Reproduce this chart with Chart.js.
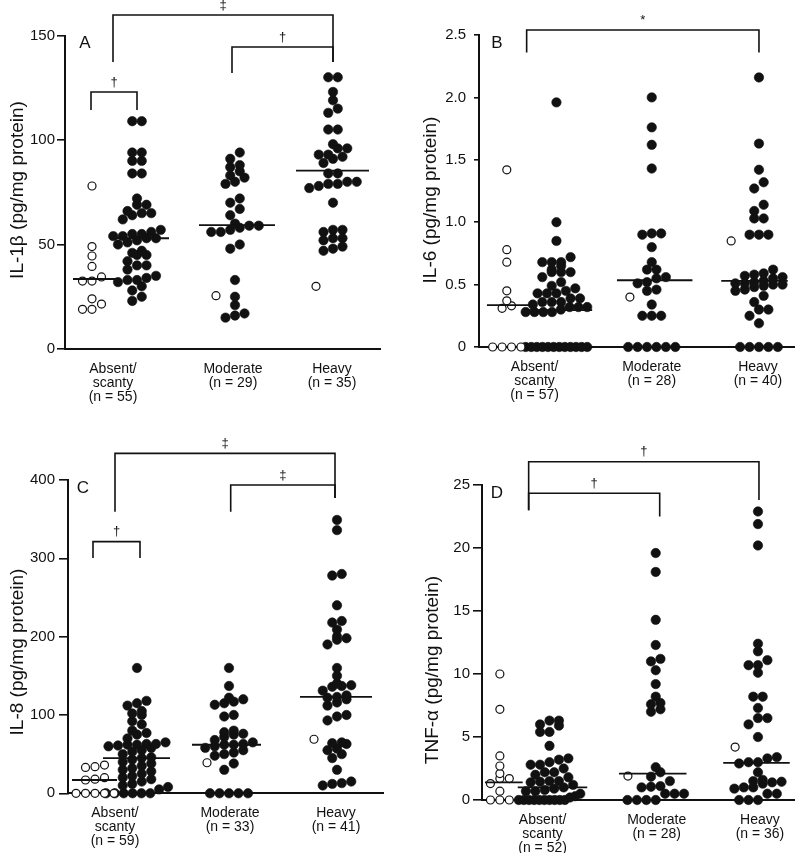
<!DOCTYPE html>
<html><head><meta charset="utf-8">
<script src="https://cdn.jsdelivr.net/npm/chart.js@4.4.1/dist/chart.umd.min.js"></script>
<style>
html,body{margin:0;padding:0;background:#fff;}
#wrap{position:relative;width:800px;height:853px;overflow:hidden;background:#fff;}
canvas{position:absolute;}
</style></head><body>
<div id="wrap">
<canvas id="cA" width="400" height="420" style="left:0;top:0"></canvas>
<canvas id="cB" width="400" height="420" style="left:400px;top:0"></canvas>
<canvas id="cC" width="400" height="438" style="left:0;top:415px"></canvas>
<canvas id="cD" width="400" height="438" style="left:400px;top:415px"></canvas>
</div>
<script>
// ---------- data ----------
const categories = ['Absent/scanty', 'Moderate', 'Heavy'];

// Panel A: IL-1β
const aN = [55, 29, 35];
const aTicks = [0, 50, 100, 150];
const aAbsentOpen = [78, 49, 44.5, 39.5, 34.5, 32.5, 32.5, 24, 21.5, 19, 19];
const aAbsentFilled = [109, 109, 94, 94, 90, 90, 84, 84, 72, 69, 69, 66, 65, 65, 64, 62, 57, 56, 55, 55, 54, 54, 53, 53, 52, 51, 50, 47, 46, 45, 45, 42, 40, 40, 38, 35, 34, 33, 33, 32, 30, 28, 25, 23];
const aModerateOpen = [25.5];
const aModerateFilled = [94, 91, 88, 87, 85, 83, 82, 80, 79, 72, 70, 67, 64, 60, 59, 59, 58, 57, 56, 56, 50, 48, 33, 25, 21, 17, 16, 15];
const aHeavyOpen = [30];
const aHeavyFilled = [130, 130, 123, 119, 115, 113, 105, 105, 98, 96, 96, 93, 93, 92, 91, 89, 84, 84, 80, 80, 79, 79, 78, 77, 70, 57, 57, 56, 53, 53, 52, 49, 48, 47];
const aMedians = [33.5, 53, 59.3, 85.3];

// Panel B: IL-6
const bN = [57, 28, 40];
const bTicks = [0, 0.5, 1.0, 1.5, 2.0, 2.5];
const bAbsentOpen = [1.42, 0.78, 0.68, 0.45, 0.37, 0.33, 0.31, 0, 0, 0, 0];
const bAbsentFilled = [1.96, 1.0, 0.85, 0.72, 0.68, 0.68, 0.68, 0.65, 0.62, 0.6, 0.6, 0.6, 0.56, 0.52, 0.49, 0.47, 0.45, 0.43, 0.43, 0.43, 0.39, 0.39, 0.36, 0.36, 0.36, 0.34, 0.32, 0.32, 0.32, 0.3, 0.28, 0.28, 0.28, 0.28, 0, 0, 0, 0, 0, 0, 0, 0, 0, 0, 0, 0];
const bModerateOpen = [0.4];
const bModerateFilled = [2.0, 1.76, 1.62, 1.43, 0.91, 0.91, 0.9, 0.8, 0.68, 0.62, 0.62, 0.56, 0.55, 0.52, 0.51, 0.46, 0.45, 0.34, 0.25, 0.25, 0.25, 0, 0, 0, 0, 0, 0];
const bHeavyOpen = [0.85];
const bHeavyFilled = [2.16, 1.63, 1.42, 1.32, 1.27, 1.14, 1.09, 1.03, 1.03, 0.9, 0.9, 0.9, 0.62, 0.59, 0.58, 0.57, 0.56, 0.55, 0.53, 0.52, 0.51, 0.51, 0.5, 0.5, 0.49, 0.48, 0.46, 0.45, 0.41, 0.36, 0.3, 0.3, 0.25, 0.19, 0, 0, 0, 0, 0];
const bMedians = [0.335, 0.295, 0.535, 0.53];

// Panel C: IL-8
const cN = [59, 33, 41];
const cTicks = [0, 100, 200, 300, 400];
const cAbsentOpen = [36, 34, 33, 20, 18, 17, 0, 0, 0, 0, 0];
const cAbsentFilled = [160, 118, 115, 112, 105, 102, 100, 92, 88, 80, 77, 75, 70, 65, 63, 63, 62, 62, 61, 60, 58, 55, 53, 50, 46, 45, 43, 40, 38, 35, 32, 30, 28, 25, 22, 20, 18, 15, 12, 10, 8, 5, 0, 0, 0, 0, 0, 0];
const cModerateOpen = [39];
const cModerateFilled = [160, 137, 122, 120, 117, 115, 113, 100, 98, 80, 78, 76, 75, 72, 68, 65, 63, 62, 62, 60, 58, 55, 52, 50, 48, 38, 30, 0, 0, 0, 0, 0];
const cHeavyOpen = [69];
const cHeavyFilled = [349, 336, 280, 278, 240, 220, 218, 209, 200, 198, 196, 190, 160, 150, 140, 138, 137, 136, 131, 125, 123, 122, 120, 116, 112, 100, 98, 93, 65, 64, 63, 57, 55, 50, 45, 30, 15, 13, 12, 10];
const cMedians = [17, 45, 62, 123];

// Panel D: TNF-α
const dN = [52, 28, 36];
const dTicks = [0, 5, 10, 15, 20, 25];
const dAbsentOpen = [10.0, 7.2, 3.5, 2.7, 2.1, 1.7, 1.7, 1.3, 0.7, 0, 0, 0];
const dAbsentFilled = [6.3, 6.3, 6.0, 5.9, 5.4, 5.4, 4.3, 3.3, 3.2, 3.0, 2.8, 2.8, 2.5, 2.2, 2.2, 2.0, 1.8, 1.5, 1.5, 1.45, 1.4, 1.2, 1.0, 0.9, 0.8, 0.7, 0.7, 0.5, 0.3, 0.2, 0, 0, 0, 0, 0, 0, 0, 0, 0, 0];
const dModerateOpen = [1.9];
const dModerateFilled = [19.6, 18.1, 14.3, 12.3, 11.2, 11.0, 10.3, 9.2, 8.2, 7.7, 7.6, 7.2, 7.0, 2.6, 2.2, 1.85, 1.5, 1.1, 1.05, 1.0, 0.5, 0.5, 0.5, 0, 0, 0, 0];
const dHeavyOpen = [4.2];
const dHeavyFilled = [22.9, 21.9, 20.2, 12.4, 11.8, 11.1, 10.7, 10.7, 10.1, 8.2, 8.2, 7.3, 6.5, 6.5, 6.0, 5.0, 3.4, 3.3, 3.0, 3.0, 2.9, 2.2, 1.6, 1.5, 1.45, 1.4, 1.3, 1.0, 1.0, 0.9, 0.5, 0.5, 0, 0, 0];
const dMedians = [1.4, 1.0, 2.1, 2.95];

// ---------- layout ----------
const FONT = "'Liberation Sans', Arial, Helvetica, sans-serif";
const INK = '#111';

function catLabels(n) {
  return [['Absent/', 'scanty', '(n = ' + n[0] + ')'], ['Moderate', '(n = ' + n[1] + ')'], ['Heavy', '(n = ' + n[2] + ')']];
}

const panels = [
  {
    canvas: 'cA', w: 400, h: 420, area: {left: 65, top: 35.5, right: 380, bottom: 349},
    yMax: 150, yTicks: aTicks, fmt: v => String(v), tickLen: 8, tickPad: 2,
    title: 'IL-1β (pg/mg protein)', titleX: 18, titleY: 190, letter: 'A', letterDx: 20,
    labelX: [48, 168, 267], labels: catLabels(aN),
    columns: [
      {vals: aAbsentOpen, x: 27, open: true}, {vals: aAbsentFilled, x: 72},
      {vals: aModerateOpen, x: 151, open: true}, {vals: aModerateFilled, x: 170},
      {vals: aHeavyOpen, x: 251, open: true}, {vals: aHeavyFilled, x: 268}
    ],
    medians: aMedians, medianX: [[8, 52], [49, 104], [134, 210], [231, 304]],
    brackets: [
      {x1: 26, x2: 72, top: 123, l: 114.4, r: 114.4, s: '†'},
      {x1: 48, x2: 268, top: 159.8, l: 137.3, r: 137.3, s: '‡'},
      {x1: 167, x2: 268, top: 144.5, l: 132, r: 137.3, s: '†'}
    ]
  },
  {
    canvas: 'cB', w: 400, h: 420, area: {left: 79, top: 35, right: 397, bottom: 347},
    yMax: 2.5, yTicks: bTicks, fmt: v => v === 0 ? '0' : v.toFixed(1), tickLen: 5, tickPad: 8,
    title: 'IL-6 (pg/mg protein)', titleX: 31, titleY: 200, letter: 'B', letterDx: 18,
    labelX: [56, 174, 281], labels: catLabels(bN),
    columns: [
      {vals: bAbsentOpen, x: 28, open: true}, {vals: bAbsentFilled, x: 78},
      {vals: bModerateOpen, x: 152, open: true}, {vals: bModerateFilled, x: 174},
      {vals: bHeavyOpen, x: 254, open: true}, {vals: bHeavyFilled, x: 282}
    ],
    medians: bMedians, medianX: [[8, 53], [48, 114], [139, 215], [244, 311]],
    brackets: [
      {x1: 48, x2: 282, top: 2.54, l: 2.36, r: 2.36, s: '*'}
    ]
  },
  {
    canvas: 'cC', w: 400, h: 438, area: {left: 68, top: 65, right: 383, bottom: 378.3},
    yMax: 400, yTicks: cTicks, fmt: v => String(v), tickLen: 9, tickPad: 4,
    title: 'IL-8 (pg/mg protein)', titleX: 18, titleY: 237, letter: 'C', letterDx: 15,
    labelX: [47, 162, 268], labels: catLabels(cN),
    columns: [
      {vals: cAbsentOpen, x: 27, open: true}, {vals: cAbsentFilled, x: 69},
      {vals: cModerateOpen, x: 139, open: true}, {vals: cModerateFilled, x: 161},
      {vals: cHeavyOpen, x: 246, open: true}, {vals: cHeavyFilled, x: 269}
    ],
    medians: cMedians, medianX: [[4, 49], [35, 102], [124, 193], [232, 304]],
    brackets: [
      {x1: 25, x2: 72, top: 321.3, l: 300.5, r: 300.5, s: '†'},
      {x1: 47, x2: 267, top: 434, l: 359.6, r: 377, s: '‡'},
      {x1: 162.7, x2: 267, top: 393.7, l: 359.6, r: 377, s: '‡'}
    ]
  },
  {
    canvas: 'cD', w: 400, h: 438, area: {left: 82, top: 70, right: 397, bottom: 385},
    yMax: 25, yTicks: dTicks, fmt: v => String(v), tickLen: 9, tickPad: 3,
    title: 'TNF-α (pg/mg protein)', titleX: 33, titleY: 255, letter: 'D', letterDx: 15,
    labelX: [61, 176, 280], labels: catLabels(dN),
    columns: [
      {vals: dAbsentOpen, x: 18, open: true}, {vals: dAbsentFilled, x: 68},
      {vals: dModerateOpen, x: 147, open: true}, {vals: dModerateFilled, x: 175},
      {vals: dHeavyOpen, x: 255, open: true}, {vals: dHeavyFilled, x: 278}
    ],
    medians: dMedians, medianX: [[3, 41], [36, 106], [138, 206], [243, 310]],
    brackets: [
      {x1: 47, x2: 279, top: 26.85, l: 23.0, r: 23.8, s: '†'},
      {x1: 47, x2: 179, top: 24.34, l: 23.0, r: 22.5, s: '†'}
    ]
  }
];

// dot-plot arrangement: values that fall within one dot height form a row, centred on the column
function swarm(values, center, pxPerUnit, spacing, maxW, rowH) {
  const sorted = values.slice().sort((a, b) => a - b);
  const rows = [];
  let cur = null;
  for (const v of sorted) {
    if (cur && (v - cur.start) * pxPerUnit <= rowH) cur.items.push(v);
    else { cur = {start: v, items: [v]}; rows.push(cur); }
  }
  const pts = [];
  rows.forEach(r => {
    const n = r.items.length;
    const sp = n > 1 ? Math.min(spacing, maxW / (n - 1)) : 0;
    r.items.forEach((v, i) => pts.push({x: center + (i - (n - 1) / 2) * sp, y: v}));
  });
  return pts;
}

function makeChart(p) {
  const A = p.area;
  const pxPerUnit = (A.bottom - A.top) / p.yMax;
  const filled = [], open = [];
  p.columns.forEach(c => {
    const pts = swarm(c.vals, c.x, pxPerUnit, 9.5, 62, 7);
    (c.open ? open : filled).push(...pts);
  });
  const datasets = [];
  p.medians.forEach((m, i) => {
    datasets.push({
      data: [{x: p.medianX[i][0], y: m}, {x: p.medianX[i][1], y: m}],
      showLine: true, borderColor: INK, borderWidth: 1.8, pointRadius: 0, order: 0, clip: false
    });
  });
  datasets.push({data: open, pointRadius: 4, pointBackgroundColor: '#fff', pointBorderColor: INK,
    pointBorderWidth: 1.2, showLine: false, order: 1, clip: false});
  datasets.push({data: filled, pointRadius: 4.7, pointBackgroundColor: INK, pointBorderColor: INK,
    pointBorderWidth: 0.6, showLine: false, order: 2, clip: false});

  const annot = {
    id: 'annot' + p.canvas,
    afterDraw(chart) {
      const ctx = chart.ctx, xs = chart.scales.x, ys = chart.scales.y;
      ctx.save();
      ctx.strokeStyle = INK; ctx.fillStyle = INK; ctx.lineWidth = 1.6;
      ctx.lineJoin = 'miter';
      p.brackets.forEach(b => {
        const x1 = xs.getPixelForValue(b.x1), x2 = xs.getPixelForValue(b.x2);
        const yt = ys.getPixelForValue(b.top);
        ctx.beginPath();
        ctx.moveTo(x1, ys.getPixelForValue(b.l));
        ctx.lineTo(x1, yt); ctx.lineTo(x2, yt);
        ctx.lineTo(x2, ys.getPixelForValue(b.r));
        ctx.stroke();
        ctx.font = '13px ' + FONT;
        ctx.textAlign = 'center'; ctx.textBaseline = 'middle';
        ctx.fillText(b.s, (x1 + x2) / 2, yt - 10);
      });
      ctx.font = '17px ' + FONT;
      ctx.textAlign = 'center'; ctx.textBaseline = 'middle';
      ctx.fillText(p.letter, chart.chartArea.left + p.letterDx, chart.chartArea.top + 8);
      ctx.translate(p.titleX, p.titleY);
      ctx.rotate(-Math.PI / 2);
      ctx.font = '19px ' + FONT;
      ctx.fillText(p.title, 0, 0);
      ctx.restore();
    }
  };

  return new Chart(document.getElementById(p.canvas), {
    type: 'scatter',
    data: {datasets},
    plugins: [annot],
    options: {
      responsive: false, animation: false, devicePixelRatio: 1,
      layout: {padding: {left: 0, top: A.top, right: p.w - A.right, bottom: 0}},
      plugins: {legend: {display: false}, tooltip: {enabled: false}},
      scales: {
        x: {
          type: 'linear', min: 0, max: A.right - A.left,
          afterFit(s) { s.height = p.h - A.bottom; },
          afterBuildTicks(s) { s.ticks = p.labelX.map(v => ({value: v})); },
          ticks: {autoSkip: false, maxRotation: 0, minRotation: 0, padding: 13, color: INK,
            font: {family: FONT, size: 14, lineHeight: 1.0},
            callback: (v, i) => p.labels[i]},
          grid: {display: false, drawTicks: false},
          border: {display: true, color: INK, width: 2}
        },
        y: {
          type: 'linear', min: 0, max: p.yMax,
          afterFit(s) { s.width = A.left; },
          afterBuildTicks(s) { s.ticks = p.yTicks.map(v => ({value: v})); },
          ticks: {padding: p.tickPad, color: INK, font: {family: FONT, size: 15},
            callback: v => p.fmt(v)},
          grid: {display: true, drawOnChartArea: false, drawTicks: true, tickLength: p.tickLen,
            color: INK, lineWidth: 1.6},
          border: {display: true, color: INK, width: 2}
        }
      }
    }
  });
}

panels.forEach(makeChart);
</script>
</body></html>
